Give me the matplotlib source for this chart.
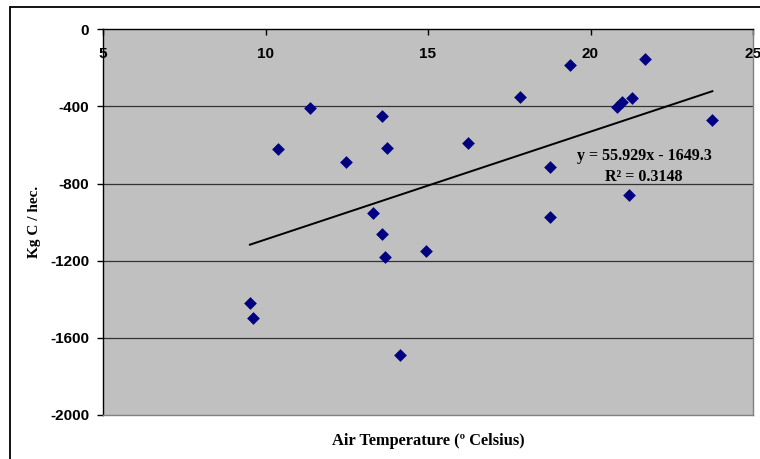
import numpy as np
import matplotlib
matplotlib.use("Agg")
import matplotlib.pyplot as plt
from matplotlib.patches import Rectangle

plt.rcParams['axes.unicode_minus'] = False

# air temperature (deg C) vs carbon (kg C / hec.)
air_temp = [9.52, 9.60, 10.37, 11.38, 12.48, 13.31, 13.59, 13.73, 13.58, 13.67,
            14.14, 14.94, 16.24, 17.84, 18.74, 18.74, 19.37, 20.81, 20.98, 21.27,
            21.19, 21.68, 23.75]
kg_c = [-1421, -1497, -619, -406, -687, -952, -451, -614, -1063, -1181,
        -1689, -1150, -591, -349, -716, -973, -185, -404, -375, -356,
        -859, -154, -470]
slope = 55.929
intercept = -1649.3
r2 = 0.3148
x_ticks = [5, 10, 15, 20, 25]
y_ticks = [0, -400, -800, -1200, -1600, -2000]

fig = plt.figure(figsize=(7.6, 4.59), dpi=100)
ax = fig.add_axes([103/760, 44/459, 650/760, 385.7/459])
ax.set_facecolor('#C0C0C0')

# outer chart border
fig.patches.append(Rectangle((10/760, -0.05), 1.0, (459-7)/459 + 0.05,
                             transform=fig.transFigure, fill=False,
                             edgecolor='black', linewidth=1.3))

for v in y_ticks[1:-1]:
    ax.axhline(v, color='#333333', linewidth=0.9, zorder=1)

ax.scatter(air_temp, kg_c, marker='D', s=6.5**2, color='#000080', zorder=3,
           linewidths=0)

xs = np.array([min(air_temp), max(air_temp)])
ax.plot(xs, slope*xs + intercept, color='black', linewidth=1.4, zorder=2)

ax.text(21.65, -712, 'y = %.3fx - %.1f\nR\u00b2 = %.4f' % (slope, -intercept, r2),
        ha='center', va='center', fontsize=11.5, fontweight='bold',
        family='Liberation Serif', linespacing=1.4)

ax.set_xlim(5, 25)
ax.set_ylim(-2000, 0)
ax.set_xticks(x_ticks)
ax.set_yticks(y_ticks)
ax.tick_params(axis='x', top=True, bottom=False, labeltop=True, labelbottom=False,
               direction='in', length=4, pad=-13, width=1)
ax.tick_params(axis='y', direction='out', length=4, pad=6, width=1)
for lab in ax.get_xticklabels() + ax.get_yticklabels():
    lab.set_family('Liberation Sans')
    lab.set_fontweight('bold')
    lab.set_fontsize(11)
for lab in ax.get_xticklabels():
    lab.set_verticalalignment('top')
    lab.set_clip_on(False)

ax.spines['left'].set_color('black')
ax.spines['top'].set_color('black')
ax.spines['right'].set_color('#808080')
ax.spines['bottom'].set_color('#808080')
for sp in ax.spines.values():
    sp.set_linewidth(1)

ax.set_xlabel('Air Temperature (\u00ba Celsius)', family='Liberation Serif',
              fontweight='bold', fontsize=11.8)
ax.set_ylabel('Kg C / hec.', family='Liberation Serif', fontweight='bold',
              fontsize=11)
ax.yaxis.set_label_coords(-0.095, 0.5)
ax.xaxis.set_label_coords(0.5, -0.047)

fig.savefig('out.png', dpi=100)
